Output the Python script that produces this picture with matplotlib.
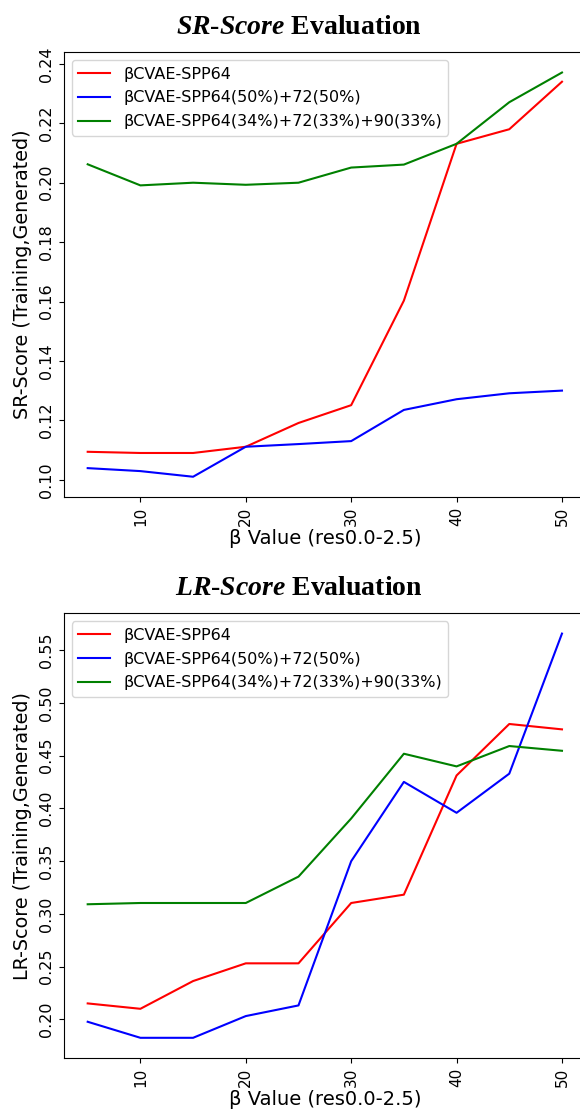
import matplotlib
matplotlib.use("Agg")
import matplotlib.pyplot as plt

beta = [5, 10, 15, 20, 25, 30, 35, 40, 45, 50]
labels = ["βCVAE-SPP64", "βCVAE-SPP64(50%)+72(50%)", "βCVAE-SPP64(34%)+72(33%)+90(33%)"]
colors = ["red", "blue", "green"]

sr_spp64 = [0.1094, 0.1090, 0.1090, 0.1111, 0.1191, 0.1251, 0.1603, 0.2131, 0.2180, 0.2340]
sr_mix2 = [0.1039, 0.1029, 0.1010, 0.1111, 0.1120, 0.1130, 0.1235, 0.1271, 0.1291, 0.1300]
sr_mix3 = [0.2062, 0.1991, 0.2000, 0.1993, 0.2000, 0.2051, 0.2061, 0.2131, 0.2271, 0.2371]

lr_spp64 = [0.2152, 0.2101, 0.2364, 0.2532, 0.2532, 0.3104, 0.3183, 0.4313, 0.4801, 0.4750]
lr_mix2 = [0.1978, 0.1826, 0.1826, 0.2032, 0.2133, 0.3500, 0.4252, 0.3959, 0.4330, 0.5658]
lr_mix3 = [0.3092, 0.3104, 0.3104, 0.3104, 0.3354, 0.3905, 0.4519, 0.4399, 0.4592, 0.4547]

plt.rcParams['mathtext.fontset'] = 'custom'
plt.rcParams['mathtext.it'] = 'Liberation Serif:italic:bold'
plt.rcParams['mathtext.rm'] = 'Liberation Serif:bold'

fig = plt.figure(figsize=(5.8, 11.13), dpi=100)

panels = [
    (0.5535, [sr_spp64, sr_mix2, sr_mix3], "SR-Score (Training,Generated)", r"$SR$-$Score$ Evaluation", 0.9695),
    (0.0494, [lr_spp64, lr_mix2, lr_mix3], "LR-Score (Training,Generated)", r"$LR$-$Score$ Evaluation", 0.4654),
]

for bottom, series, ylab, title, ty in panels:
    ax = fig.add_axes([0.1103, bottom, 0.8995, 0.3995])
    for vals, lab, c in zip(series, labels, colors):
        ax.plot(beta, vals, color=c, label=lab, linewidth=1.5)
    ax.set_xticks([10, 20, 30, 40, 50])
    ax.tick_params(axis='x', labelrotation=90, labelsize=11)
    ax.tick_params(axis='y', labelrotation=90, labelsize=11.5)
    for t in ax.get_yticklabels():
        t.set_va('center')
    ax.set_xlabel("β Value (res0.0-2.5)", fontsize=14, labelpad=2)
    ax.set_ylabel(ylab, fontsize=13.8, labelpad=5)
    ax.legend(loc='upper left', fontsize=11.5, labelspacing=0.55, borderaxespad=0.5)
    fig.text(0.516, ty, title, ha='center', va='baseline', fontsize=20,
             family='Liberation Serif', weight='bold')

fig.savefig("out.png", dpi=100)
